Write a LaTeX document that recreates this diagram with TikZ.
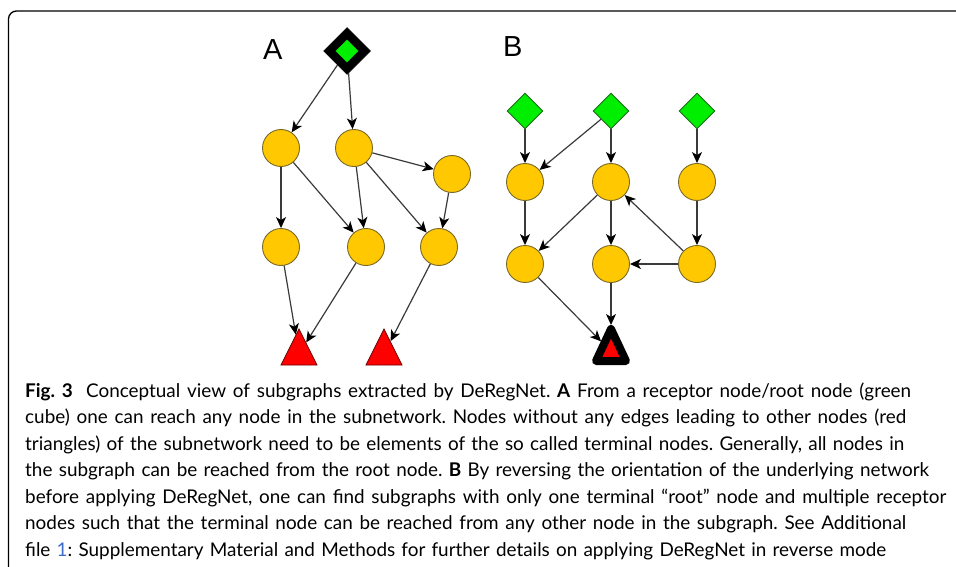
\documentclass[tikz,border=0pt]{standalone}
\usepackage{fontspec}
\setmainfont{Lato}
\newfontfamily\panelfont{Liberation Sans}
\usetikzlibrary{shapes.geometric,arrows.meta}

\definecolor{nodegold}{HTML}{FFC800}
\definecolor{goldedge}{HTML}{7A6A2A}
\definecolor{srcgreen}{HTML}{00EE00}
\definecolor{srcedge}{HTML}{1E6A1E}
\definecolor{sinkred}{HTML}{FF0000}
\definecolor{sinkedge}{HTML}{6A0000}
\definecolor{edgegray}{HTML}{3A3A3A}
\definecolor{linkblue}{HTML}{3A6CC8}

\tikzset{
  gene/.style={circle, fill=nodegold, draw=goldedge, line width=0.9pt,
               minimum size=37pt, inner sep=0pt},
  source/.style={diamond, aspect=1, fill=srcgreen, draw=srcedge, line width=0.9pt,
                 minimum width=36pt, minimum height=36pt, inner sep=0pt},
  rootframe/.style={diamond, aspect=1, fill=black, draw=black, line width=0.5pt,
                    minimum width=47pt, minimum height=47pt, inner sep=0pt},
  rootcore/.style={diamond, aspect=1, fill=srcgreen, draw=none,
                   minimum width=23pt, minimum height=23pt, inner sep=0pt},
  sink/.style={isosceles triangle, isosceles triangle stretches, shape border rotate=90,
               fill=sinkred, draw=sinkedge, line width=0.8pt,
               minimum width=36pt, minimum height=36pt, inner sep=0pt, anchor=apex},
  bigsink/.style={isosceles triangle, isosceles triangle stretches, shape border rotate=90,
                  fill=sinkred, draw=black, line width=8pt, line join=round,
                  minimum width=30pt, minimum height=32pt, inner sep=0pt,
                  outer sep=0pt, anchor=apex},
  edge/.style={draw=edgegray, line width=1.2pt,
               -{Stealth[length=11pt, width=10pt, inset=3pt, color=black]}},
  panel/.style={font=\panelfont\fontsize{29}{29}\selectfont, inner sep=0pt, anchor=base west},
  capline/.style={inner sep=0pt, anchor=base west, font=\fontsize{18.9}{20}\selectfont},
}

% one caption line set to a fixed width, with flexible word spaces
\newcommand{\capbox}[2]{\hbox to #1pt{\frenchspacing\spaceskip=0.25em plus 0.3em minus 0.12em #2}}

\begin{document}
\begin{tikzpicture}[x=1pt, y=-1pt]
  \useasboundingbox (0,0) rectangle (956,567);

  % panel frame: rounded corner at the top left
  \draw[black, line width=1.3pt, rounded corners=8pt] (8.5,575) -- (8.5,11) -- (965,11);

  % ---------- panel A ----------
  \node[panel] (labA) at (263,60) {A};

  \node[rootframe] (rA) at (347,51) {};
  \node[rootcore] (rAcore) at (347,51) {};

  \node[gene] (a1) at (281,148) {};
  \node[gene] (a2) at (354,148) {};
  \node[gene] (a3) at (452,174) {};
  \node[gene] (b1) at (281,247) {};
  \node[gene] (b2) at (366,247) {};
  \node[gene] (b3) at (439,247) {};
  \node[sink] (t1) at (299,328) {};
  \node[sink] (t2) at (384,328) {};

  \draw[edge] (rA) -- (a1);
  \draw[edge] (rA) -- (a2);
  \draw[edge] (a1) -- (b1);
  \draw[edge] (a1) -- (b2);
  \draw[edge] (a2) -- (b2);
  \draw[edge] (a2) -- (b3);
  \draw[edge] (a2) -- (a3);
  \draw[edge] (a3) -- (b3);
  \draw[edge] (b1) -- (t1);
  \draw[edge] (b2) -- (t1);
  \draw[edge] (b3) -- (t2);

  % ---------- panel B ----------
  \node[panel] (labB) at (503,57) {B};

  \node[source] (d1) at (525,111) {};
  \node[source] (d2) at (611,111) {};
  \node[source] (d3) at (697,111) {};
  \node[gene] (c1) at (525,182) {};
  \node[gene] (c2) at (611,182) {};
  \node[gene] (c3) at (697,182) {};
  \node[gene] (e1) at (525,264) {};
  \node[gene] (e2) at (611,264) {};
  \node[gene] (e3) at (697,264) {};
  \node[bigsink] (T) at (611,329) {};

  \draw[edge] (d1) -- (c1);
  \draw[edge] (d2) -- (c1);
  \draw[edge] (d2) -- (c2);
  \draw[edge] (d3) -- (c3);
  \draw[edge] (c1) -- (e1);
  \draw[edge] (c2) -- (e1);
  \draw[edge] (c2) -- (e2);
  \draw[edge] (c3) -- (e3);
  \draw[edge] (e3) -- (c2);
  \draw[edge] (e3) -- (e2);
  \draw[edge, shorten >=4pt] (e1) -- (T);
  \draw[edge, shorten >=4pt] (e2) -- (T);

  % ---------- caption ----------
  \node[capline] (cap1) at (25,397.0) {\capbox{886}{\textbf{Fig.~3}\hspace{0.7em}Conceptual view of subgraphs extracted by DeRegNet. \textbf{A} From a receptor node/root node (green}};
  \node[capline] (cap2) at (25,423.5) {\capbox{881}{cube) one can reach any node in the subnetwork. Nodes without any edges leading to other nodes (red}};
  \node[capline] (cap3) at (25,450.0) {\capbox{879}{triangles) of the subnetwork need to be elements of the so called terminal nodes. Generally, all nodes in}};
  \node[capline] (cap4) at (25,476.5) {\capbox{904}{the subgraph can be reached from the root node. \textbf{B} By reversing the orientation of the underlying network}};
  \node[capline] (cap5) at (25,503.0) {\capbox{921}{before applying DeRegNet, one can find subgraphs with only one terminal “root” node and multiple receptor}};
  \node[capline] (cap6) at (25,529.5) {\capbox{881}{nodes such that the terminal node can be reached from any other node in the subgraph. See Additional}};
  \node[capline] (cap7) at (25,556.0) {\capbox{861}{file \textcolor{linkblue}{1}: Supplementary Material and Methods for further details on applying DeRegNet in reverse mode}};
\end{tikzpicture}
\end{document}
